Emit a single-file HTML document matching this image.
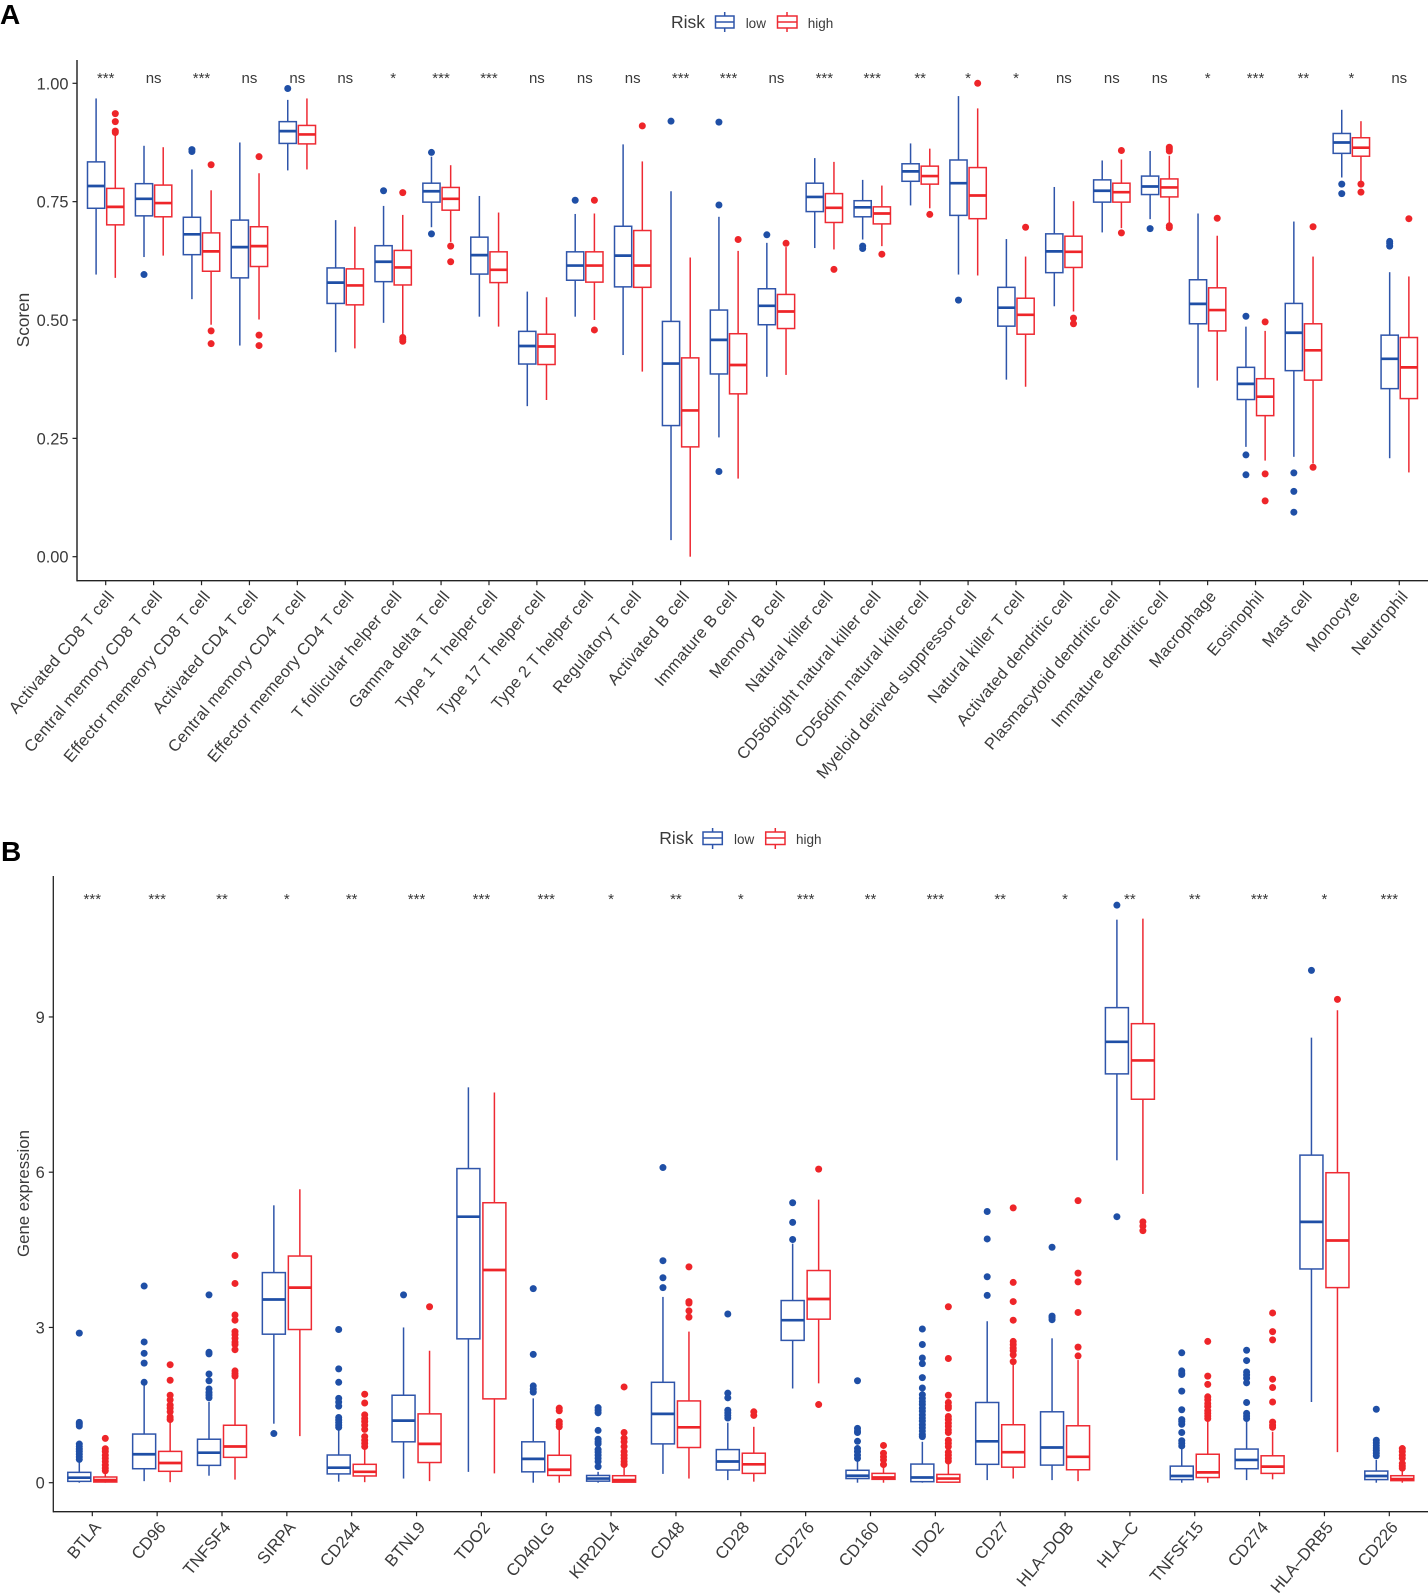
<!DOCTYPE html>
<html lang="en">
<head>
<meta charset="utf-8">
<title>Immune cell scores and checkpoint gene expression by risk group</title>
<style>
html,body{margin:0;padding:0;background:#fff;}
svg{display:block;}
text{font-family:"Liberation Sans",Arial,sans-serif;fill:#3a3a3a;}
</style>
</head>
<body>
<svg id="figure" xmlns="http://www.w3.org/2000/svg" width="1428" height="1594" viewBox="0 0 1428 1594">
  <rect x="0" y="0" width="1428" height="1594" fill="#fff"/>
  <text x="0" y="24" font-size="28" font-weight="700" style="fill:#000">A</text>
  <text x="1" y="861" font-size="28" font-weight="700" style="fill:#000">B</text>
  <text transform="translate(29,320) rotate(-90)" text-anchor="middle" font-size="17.2">Scoren</text>
  <text transform="translate(29,1193.5) rotate(-90)" text-anchor="middle" font-size="16.8">Gene expression</text>

  <g>
    <text x="671" y="28" font-size="17.5">Risk</text>
    <g stroke="#2f55aa" stroke-width="1.5" fill="none">
      <path d="M715.5 16H734V28H715.5ZM715.5 22H734M724.7 12V16M724.7 28V32"/>
    </g>
    <text x="745.7" y="28" font-size="13.5">low</text>
    <g stroke="#ee2a33" stroke-width="1.5" fill="none">
      <path d="M777.5 16H797V28H777.5ZM777.5 22H797M787 12V16M787 28V32"/>
    </g>
    <text x="807.7" y="28" font-size="13.5">high</text>
  </g>

  <g>
    <text x="659.3" y="844" font-size="17.5">Risk</text>
    <g stroke="#2f55aa" stroke-width="1.5" fill="none">
      <path d="M703 832H722.3V844.5H703ZM703 838H722.3M712.6 828V832M712.6 844.5V849"/>
    </g>
    <text x="734" y="844" font-size="13.5">low</text>
    <g stroke="#ee2a33" stroke-width="1.5" fill="none">
      <path d="M765.7 832H785V844.5H765.7ZM765.7 838H785M775.3 828V832M775.3 844.5V849"/>
    </g>
    <text x="796" y="844" font-size="13.5">high</text>
  </g>

  <g id="panel-a"></g>
  <g id="panel-b"></g>
</svg>

<script>
/* ---------- Panel A data: [lower whisker, Q1, median, Q3, upper whisker] ---------- */
const categoriesA = ["Activated CD8 T cell","Central memory CD8 T cell","Effector memeory CD8 T cell","Activated CD4 T cell","Central memory CD4 T cell","Effector memeory CD4 T cell","T follicular helper cell","Gamma delta T cell","Type 1 T helper cell","Type 17 T helper cell","Type 2 T helper cell","Regulatory T cell","Activated B cell","Immature  B cell","Memory B cell","Natural killer cell","CD56bright natural killer cell","CD56dim natural killer cell","Myeloid derived suppressor cell","Natural killer T cell","Activated dendritic cell","Plasmacytoid dendritic cell","Immature dendritic cell","Macrophage","Eosinophil","Mast cell","Monocyte","Neutrophil"];
const significanceA = ["***","ns","***","ns","ns","ns","*","***","***","ns","ns","ns","***","***","ns","***","***","**","*","*","ns","ns","ns","*","***","**","*","ns"];
const yTicksA = [0,0.25,0.5,0.75,1];
const yTickLabelsA = ["0.00","0.25","0.50","0.75","1.00"];
const lowStatsA = [
[.596,.736,.783,.834,.968],[.633,.720,.756,.788,.868],[.544,.638,.681,.717,.818],[.446,.589,.654,.711,.875],
[.816,.873,.899,.919,.965],[.432,.535,.579,.610,.711],[.494,.581,.623,.657,.741],[.696,.749,.772,.789,.845],
[.507,.597,.637,.675,.762],[.318,.407,.445,.476,.560],[.507,.584,.615,.644,.724],[.426,.570,.636,.698,.871],
[.035,.277,.408,.497,.772],[.252,.386,.458,.521,.718],[.380,.490,.530,.566,.663],[.652,.729,.760,.789,.842],
[.670,.718,.738,.752,.796],[.742,.793,.814,.830,.873],[.596,.721,.789,.838,.973],[.374,.487,.526,.569,.671],
[.529,.600,.645,.682,.781],[.685,.749,.773,.796,.837],[.713,.765,.782,.804,.857],[.357,.492,.534,.585,.725],
[.232,.332,.365,.400,.486],[.211,.393,.473,.535,.708],[.801,.852,.875,.894,.944],[.208,.355,.418,.468,.601]];
const lowOutliersA = [[],[.596],[.860,.856],[],[.989],[],[.773],[.854,.682],[],[],[.753],[],[.920],[.918,.743,.180],[.680],[],[.656,.651],[],[.542],[],[],[],[.693],[],[.508,.215,.173],[.177,.138,.094],[.787,.767],[.666,.662,.656]];
const highStatsA = [
[.589,.701,.739,.778,.891],[.636,.718,.747,.785,.865],[.490,.603,.645,.684,.774],[.501,.613,.656,.697,.810],
[.818,.872,.892,.911,.968],[.440,.532,.573,.608,.697],[.468,.574,.611,.647,.722],[.665,.732,.756,.780,.827],
[.486,.579,.606,.644,.727],[.331,.406,.444,.470,.548],[.500,.580,.615,.644,.725],[.391,.569,.615,.689,.835],
[.000,.232,.309,.420,.632],[.165,.344,.405,.471,.646],[.384,.482,.518,.554,.654],[.649,.706,.737,.767,.834],
[.656,.703,.725,.739,.784],[.736,.787,.804,.825,.862],[.594,.714,.763,.822,.947],[.359,.470,.511,.546,.634],
[.518,.611,.644,.677,.751],[.694,.749,.770,.789,.839],[.704,.760,.780,.798,.847],[.372,.477,.521,.568,.678],
[.203,.298,.338,.376,.477],[.197,.373,.436,.492,.634],[.792,.846,.864,.885,.920],[.178,.334,.400,.463,.592]];
const highOutliersA = [[.936,.919,.899,.896],[],[.828,.477,.450],[.845,.468,.446],[],[],[.769,.463,.459,.455],[.656,.623],[],[],[.753,.479],[.910],[],[.670],[.662],[.607],[.639],[.723],[1.000],[.696],[.504,.492],[.858,.684],[.865,.861,.857,.699,.695],[.715],[.496,.175,.118],[.697,.189],[.787,.770],[.714]];

/* ---------- Panel B data ---------- */
const categoriesB = ["BTLA","CD96","TNFSF4","SIRPA","CD244","BTNL9","TDO2","CD40LG","KIR2DL4","CD48","CD28","CD276","CD160","IDO2","CD27","HLA–DOB","HLA–C","TNFSF15","CD274","HLA–DRB5","CD226"];
const significanceB = ["***","***","**","*","**","***","***","***","*","**","*","***","**","***","**","*","**","**","***","*","***"];
const yTicksB = [0,3,6,9];
const yTickLabelsB = ["0","3","6","9"];
const lowStatsB = [
[0,.026,.097,.20,.406],[.03,.27,.55,.94,1.92],[.135,.335,.58,.84,1.56],[1.14,2.87,3.54,4.06,5.36],
[.02,.17,.29,.535,1.05],[.08,.79,1.20,1.69,3.00],[.21,2.78,5.14,6.07,7.64],[0,.21,.46,.79,1.63],
[0,.03,.08,.14,.21],[.17,.75,1.33,1.94,3.59],[.05,.245,.41,.64,1.16],[1.82,2.75,3.14,3.52,4.62],
[0,.08,.135,.24,.425],[0,.02,.10,.36,.79],[.05,.355,.80,1.55,3.12],[.05,.34,.68,1.37,2.79],
[6.23,7.90,8.52,9.18,10.88],[0,.06,.13,.32,.66],[.05,.27,.44,.65,1.21],[1.56,4.13,5.04,6.33,8.60],[0,.06,.13,.225,.44]];
const lowOutliersB = [
[2.89,1.165,1.133,1.095,.747,.70,.65,.60,.55,.50,.45],[3.80,2.72,2.50,2.31,1.94],[3.63,2.52,2.49,2.10,1.97,1.81,1.74,1.69,1.64],[.95],
[2.96,2.20,1.94,1.63,1.56,1.48,1.26,1.21,1.16,1.11,1.07],[3.63],[],[3.75,2.48,1.87,1.81,1.75],
[1.45,1.40,1.35,1.01,.84,.79,.75,.64,.59,.53,.47,.41,.31],[6.09,4.29,3.96,3.77],[3.26,1.73,1.64,1.40,1.35,1.30,1.25],[5.41,5.03,4.70],
[1.97,1.05,1.0,.97,.80,.66,.60,.53,.47],[2.97,2.67,2.41,2.30,2.03,1.83,1.70,1.63,1.57,1.51,1.44,1.38,1.31,1.25,1.19,1.12,1.06,1.00,.93,.89],[5.24,4.71,3.98,3.62],[4.55,3.22,3.19,3.15],
[11.16,5.14],[2.51,2.16,2.12,2.09,1.77,1.41,1.22,1.18,1.13,.97,.81,.76,.71],[2.56,2.36,2.14,2.08,2.02,1.93,1.55,1.34,1.29,1.24],[9.90],[1.42,.82,.77,.72,.67,.62,.57,.52]];
const highStatsB = [
[0,.013,.05,.11,.21],[.01,.22,.38,.605,1.18],[.06,.49,.70,1.11,2.02],[.90,2.96,3.77,4.38,5.67],
[.01,.13,.21,.355,.70],[.03,.39,.75,1.33,2.55],[.18,1.62,4.11,5.41,7.54],[0,.14,.25,.53,1.05],
[0,.01,.05,.135,.30],[.08,.68,1.07,1.58,2.92],[.02,.18,.355,.57,1.08],[1.92,3.16,3.55,4.10,5.47],
[0,.065,.10,.18,.30],[0,.01,.08,.16,.39],[.08,.30,.59,1.12,2.31],[.03,.25,.50,1.10,2.37],
[5.58,7.41,8.16,8.87,10.90],[0,.10,.20,.55,1.21],[.065,.18,.31,.52,.985],[.59,3.77,4.68,5.99,9.13],[0,.04,.07,.135,.245]];
const highOutliersB = [
[.856,.657,.60,.53,.47,.41,.34,.28,.23],[2.28,1.98,1.69,1.60,1.50,1.44,1.37,1.27,1.22],[4.39,3.85,3.24,3.14,2.92,2.86,2.79,2.72,2.67,2.57,2.16,2.11,2.06],[],
[1.71,1.54,1.31,1.24,1.18,1.11,1.03,.89,.82,.76,.70],[3.40],[],[1.44,1.39,1.18,1.13,1.08],
[1.85,.97,.86,.79,.70,.60,.53,.47,.41,.35],[4.17,3.50,3.47,3.32,3.20],[1.37,1.30],[6.06,1.51],
[.72,.57,.50,.44,.35],[3.40,2.40,1.69,1.55,1.48,1.44,1.28,1.22,1.15,1.09,1.02,.97,.82,.76,.70,.59,.53,.47,.42],[5.31,3.87,3.50,3.14,2.73,2.67,2.60,2.55,2.47,2.34],[5.45,4.05,3.88,3.29,2.62,2.45],
[5.04,4.96,4.87],[2.73,2.06,1.90,1.66,1.60,1.53,1.47,1.39,1.34,1.29,1.24],[3.28,2.92,2.76,2.00,1.84,1.56,1.17,1.11,1.07],[9.34],[.66,.60,.53,.47,.37,.32,.28]];

/* ---------- Drawing ---------- */
const SVG_NS = "http://www.w3.org/2000/svg";
const BLUE = "#2f55aa", BLUE_DOT = "#1f4fa6", RED = "#ee2a33", RED_DOT = "#ee2529";

function svgEl(tag, parent, attrs) {
  const el = document.createElementNS(SVG_NS, tag);
  for (const k in attrs) el.setAttribute(k, attrs[k]);
  parent.appendChild(el);
  return el;
}

function drawBox(parent, yScale, cx, width, stats, outliers, stroke, dot, medianStroke, groupName) {
  const g = svgEl("g", parent, {});
  
  
  g.setAttribute('aria-label', groupName);
  const [wlo, q1, med, q3, whi] = stats;
  const upper = svgEl("line", g, {x1:cx, x2:cx, y1:yScale(q3), y2:yScale(whi), stroke:stroke, "stroke-width":1.5});
  
  
  const lower = svgEl("line", g, {x1:cx, x2:cx, y1:yScale(q1), y2:yScale(wlo), stroke:stroke, "stroke-width":1.5});
  
  
  const box = svgEl("rect", g, {x:cx-width/2, y:yScale(q3), width:width, height:yScale(q1)-yScale(q3), fill:"#fff", stroke:stroke, "stroke-width":1.5});
  
  
  const median = svgEl("line", g, {x1:cx-width/2, x2:cx+width/2, y1:yScale(med), y2:yScale(med), stroke:medianStroke, "stroke-width":2.7});
  
  
  outliers.forEach(function (v) {
    const c = svgEl("circle", g, {cx:cx, cy:yScale(v), r:3.5, fill:dot});
    
    
  });
}

function drawPanel(cfg) {
  const root = document.getElementById(cfg.id);
  const yScale = function (v) { return cfg.yZero - cfg.yPerUnit * v; };
  const xScale = function (i) { return cfg.xFirst + cfg.xStep * i; };

  /* boxes */
  cfg.categories.forEach(function (cat, i) {
    const x = xScale(i);
    drawBox(root, yScale, x - cfg.offset, cfg.boxWidth, cfg.lowStats[i], cfg.lowOutliers[i], BLUE, BLUE_DOT, "#1f4fa6", cat + " low");
    drawBox(root, yScale, x + cfg.offset, cfg.boxWidth, cfg.highStats[i], cfg.highOutliers[i], RED, RED_DOT, "#ee2529", cat + " high");
    const sig = svgEl("text", root, {x:x, y:cfg.sigY, "text-anchor":"middle", "font-size":cfg.sigSize});
    
    
    sig.textContent = cfg.significance[i];
  });

  /* y axis */
  const yAxis = svgEl("line", root, {x1:cfg.axisX, x2:cfg.axisX, y1:cfg.axisTop, y2:cfg.axisBottom + 0.7, stroke:cfg.yAxisColor, "stroke-width":cfg.yAxisWidth});
  
  
  cfg.yTicks.forEach(function (v, i) {
    const y = yScale(v);
    const t = svgEl("line", root, {x1:cfg.axisX - 4.5, x2:cfg.axisX, y1:y, y2:y, stroke:"#222", "stroke-width":1.2});
    
    
    const lab = svgEl("text", root, {x:cfg.axisX - 8.5, y:y + 6, "text-anchor":"end", "font-size":16.4});
    
    
    lab.textContent = cfg.yTickLabels[i];
  });

  /* x axis */
  const xAxis = svgEl("line", root, {x1:cfg.axisX, x2:1428, y1:cfg.axisBottom, y2:cfg.axisBottom, stroke:"#222", "stroke-width":1.3});
  
  
  cfg.categories.forEach(function (cat, i) {
    const x = xScale(i);
    const t = svgEl("line", root, {x1:x, x2:x, y1:cfg.axisBottom, y2:cfg.axisBottom + 4.5, stroke:"#222", "stroke-width":1.2});
    
    
    const lab = svgEl("text", root, {"text-anchor":"end", "font-size":cfg.xFont, "letter-spacing":cfg.xSpacing, transform:"translate(" + (x + cfg.labelDx) + "," + (cfg.axisBottom + cfg.labelDy) + ") rotate(-50)"});
    
    
    lab.textContent = cat;
  });
}

drawPanel({
  id:"panel-a", categories:categoriesA, significance:significanceA,
  lowStats:lowStatsA, lowOutliers:lowOutliersA, highStats:highStatsA, highOutliers:highOutliersA,
  yTicks:yTicksA, yTickLabels:yTickLabelsA,
  yZero:556.7, yPerUnit:473.4, xFirst:105.7, xStep:47.91, offset:9.6, boxWidth:17.2,
  axisX:77, axisTop:60, axisBottom:580.7, yAxisColor:"#444", yAxisWidth:1.7,
  sigY:83, sigSize:15, xFont:16.4, xSpacing:0.3, labelDx:9.5, labelDy:16
});
drawPanel({
  id:"panel-b", categories:categoriesB, significance:significanceB,
  lowStats:lowStatsB, lowOutliers:lowOutliersB, highStats:highStatsB, highOutliers:highOutliersB,
  yTicks:yTicksB, yTickLabels:yTickLabelsB,
  yZero:1482.7, yPerUnit:51.75, xFirst:92.3, xStep:64.85, offset:13, boxWidth:23,
  axisX:53.3, axisTop:876, axisBottom:1511.7, yAxisColor:"#222", yAxisWidth:1.3,
  sigY:904, sigSize:15, xFont:16.8, xSpacing:0, labelDx:9.5, labelDy:16
});
</script>
</body>
</html>
